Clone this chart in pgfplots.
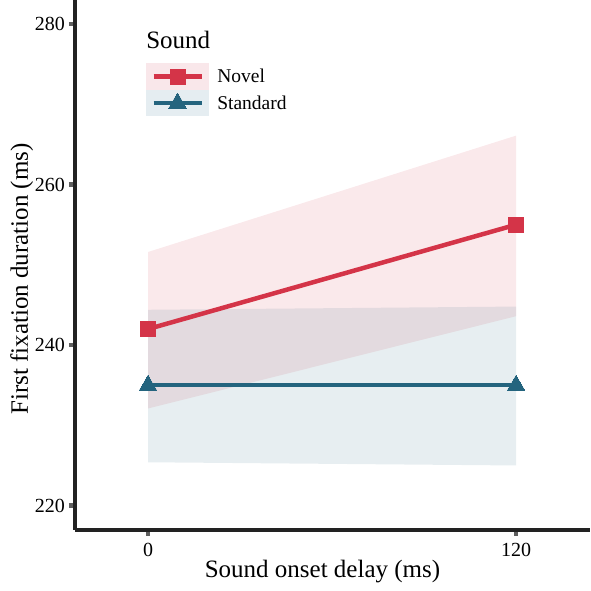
\documentclass[border=0pt]{standalone}
\usepackage{fontspec}
\setmainfont{Liberation Serif}
\usepackage{pgfplots}
\pgfplotsset{compat=1.18}
\definecolor{novred}{RGB}{212,52,72}
\definecolor{stdblue}{RGB}{36,100,126}
\definecolor{novfill}{RGB}{249,231,234}
\definecolor{stdfill}{RGB}{229,237,241}
\definecolor{axcol}{RGB}{34,34,34}
\definecolor{tickcol}{RGB}{95,95,95}
\pgfplotsset{
  novkey/.style={legend image code/.code={
    \fill[novfill] (0pt,-11pt) rectangle (58pt,11pt);
    \draw[mark repeat=2,mark phase=2,##1] plot coordinates {(5pt,0pt) (29pt,0pt) (53pt,0pt)};}},
  stdkey/.style={legend image code/.code={
    \fill[stdfill] (0pt,-11pt) rectangle (58pt,11pt);
    \draw[mark repeat=2,mark phase=2,##1] plot coordinates {(5pt,0pt) (29pt,0pt) (53pt,0pt)};}},
}
\begin{document}
\begin{tikzpicture}
\useasboundingbox (0,0) rectangle (591pt,591pt);
\begin{axis}[
  at={(75pt,61pt)}, anchor=south west,
  scale only axis, width=515pt, height=530pt,
  xmin=-23.8, xmax=144.1, ymin=216.96, ymax=283.0,
  axis lines=left,
  axis line style={-, line width=3.5pt, color=axcol},
  xtick={0,120}, ytick={220,240,260,280},
  tick align=outside,
  major tick length=6pt,
  tick style={line width=4.5pt, color=tickcol},
  /pgf/number format/assume math mode=true,
  tick label style={font=\fontsize{20}{20}\selectfont},
  yticklabel style={inner sep=0pt, xshift=-4pt},
  xticklabel style={inner sep=0pt, yshift=-7pt},
  xlabel={Sound onset delay (ms)},
  ylabel={First fixation duration (ms)},
  label style={font=\fontsize{25}{25}\selectfont, inner sep=0pt},
  xlabel style={at={(axis description cs:0.4806,-0.0887)}, anchor=base},
  ylabel style={at={(axis description cs:-0.1262,0.4736)}, anchor=north, rotate=0},
  legend style={draw=none, fill=none, inner sep=0pt, at={(0.138,0.881)}, anchor=north west,
    font=\fontsize{19.5}{20}\selectfont, row sep=0pt,
    nodes={inner sep=0.5pt},
    /tikz/every odd column/.append style={column sep=8pt}},
  legend cell align=left,
  clip=false,
]
\addplot[draw=none, fill=novred, fill opacity=0.11, forget plot]
  coordinates {(0,251.6) (120,266.1) (120,243.6) (0,232.1)} -- cycle;
\addplot[draw=none, fill=stdblue, fill opacity=0.11, forget plot]
  coordinates {(0,244.4) (120,244.8) (120,225.0) (0,225.4)} -- cycle;
\addplot[color=novred, line width=4.5pt, mark=square*, mark size=7.5pt,
  mark options={line width=0pt}, novkey]
  coordinates {(0,242) (120,255)};
\addlegendentry{Novel}
\addplot[color=stdblue, line width=4.5pt, mark=triangle*, mark size=10pt,
  mark options={line width=0pt}, stdkey]
  coordinates {(0,235) (120,235)};
\addlegendentry{Standard}
\node[anchor=base west, inner sep=0pt, font=\fontsize{25}{25}\selectfont]
  at (axis description cs:0.138,0.9094) {Sound};
\end{axis}
\end{tikzpicture}
\end{document}
